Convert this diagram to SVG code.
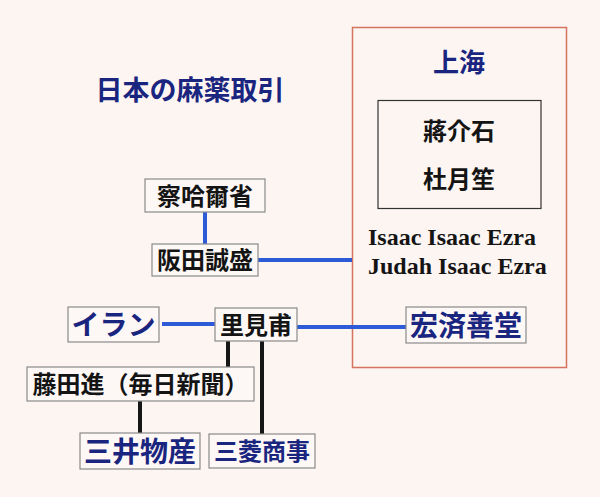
<svg xmlns="http://www.w3.org/2000/svg" width="600" height="497" viewBox="0 0 600 497">
<style>
.t{font-family:"Liberation Serif","Noto Sans CJK JP",serif;font-weight:700;text-anchor:middle}
.k{fill:#141414}
.n{fill:#1a2580}
.box{fill:#fdf8f6;stroke:#8a8a8a;stroke-width:1.2}
.blue{stroke:#2d5bd8;stroke-width:4;fill:none}
.blk{stroke:#161616;stroke-width:4;fill:none}
</style>
<rect x="0" y="0" width="600" height="497" fill="#fcf5f2"/>
<text class="t n" x="190" y="100" font-size="27">日本の麻薬取引</text>
<g id="shanghai">
<rect x="352.5" y="27.5" width="214" height="340" fill="none" stroke="#d4735e" stroke-width="1.5"/>
<text class="t n" x="459" y="72" font-size="26">上海</text>
</g>
<g id="leaders">
<rect x="378" y="100.5" width="163" height="108" fill="none" stroke="#333" stroke-width="1.2"/>
<text class="t k" x="459" y="140" font-size="24">蔣介石</text>
<text class="t k" x="459" y="188" font-size="24">杜月笙</text>
</g>
<g id="ezra">
<text class="t k" x="368" y="245" font-size="24" style="text-anchor:start">Isaac Isaac Ezra</text>
<text class="t k" x="368" y="274" font-size="24" style="text-anchor:start">Judah Isaac Ezra</text>
</g>
<g id="connectors">
<line class="blue" x1="205" y1="212" x2="205" y2="244"/>
<line class="blue" x1="258" y1="260" x2="352" y2="260"/>
<line class="blue" x1="162" y1="324" x2="215" y2="324"/>
<line class="blue" x1="297" y1="327" x2="406" y2="327"/>
<line class="blk" x1="228" y1="341" x2="228" y2="367"/>
<line class="blk" x1="262" y1="341" x2="262" y2="434"/>
<line class="blk" x1="140" y1="401" x2="140" y2="433"/>
</g>
<g id="chahar">
<rect class="box" x="145" y="179" width="120" height="33"/>
<text class="t k" x="205" y="204.5" font-size="24">察哈爾省</text>
</g>
<g id="sakata">
<rect class="box" x="152" y="244" width="106" height="32"/>
<text class="t k" x="205" y="269" font-size="24">阪田誠盛</text>
</g>
<g id="iran">
<rect class="box" x="68" y="307" width="91" height="35"/>
<text class="t n" x="113.5" y="335" font-size="28">イラン</text>
</g>
<g id="satomi">
<rect class="box" x="215" y="308" width="82" height="33"/>
<text class="t k" x="256" y="333.5" font-size="24">里見甫</text>
</g>
<g id="hongji">
<rect class="box" x="406" y="307" width="120" height="36"/>
<text class="t n" x="466" y="335.5" font-size="28">宏済善堂</text>
</g>
<g id="fujita">
<rect class="box" x="27" y="367" width="227" height="34"/>
<text class="t k" x="140.5" y="393" font-size="24">藤田進（毎日新聞）</text>
</g>
<g id="mitsui">
<rect class="box" x="80" y="433" width="120" height="36"/>
<text class="t n" x="140" y="461.5" font-size="28">三井物産</text>
</g>
<g id="mitsubishi">
<rect class="box" x="209" y="434" width="106" height="34"/>
<text class="t n" x="262" y="460" font-size="24">三菱商事</text>
</g>
</svg>
